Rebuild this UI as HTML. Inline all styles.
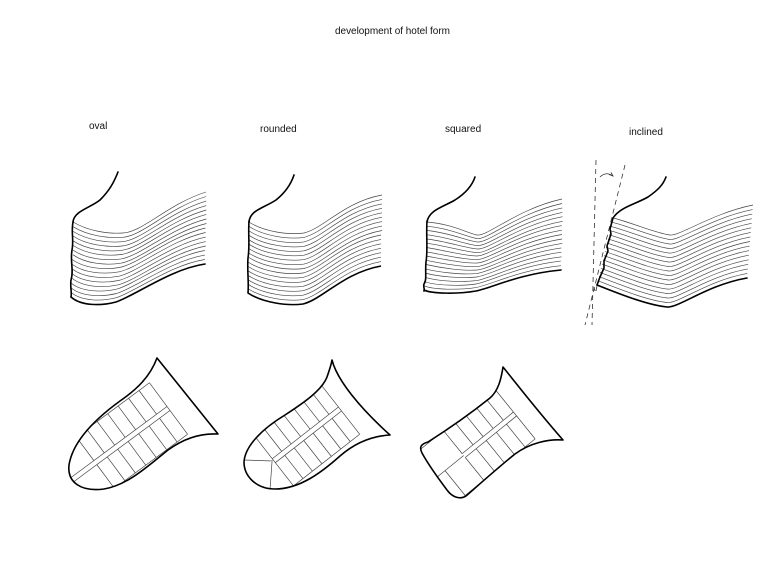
<!DOCTYPE html>
<html>
<head>
<meta charset="utf-8">
<style>
html,body{margin:0;padding:0;background:#fff;}
svg{display:block;}
text{font-family:"Liberation Sans",Arial,sans-serif;fill:#111;}
</style>
</head>
<body>
<svg width="780" height="565" viewBox="0 0 780 565" xmlns="http://www.w3.org/2000/svg">
<rect width="780" height="565" fill="#fff"/>
<defs>
  <path id="s2" d="M0,0 C15,10 40,13 55,11 C75,6 95,-20 133,-27"/>
  <clipPath id="c1"><path d="M157,358 C150,377 136,390 120,401 C98,417 73,440 69,465 C67,483 82,492 104,489 C128,485 148,466 168,450 C183,439 199,433 218,434 L157,358 Z"/></clipPath>
  <clipPath id="c2"><path d="M332,360 C337,380 360,408 390,435 C372,436 355,443 340,456 C322,472 300,489 275,489 C256,489 244,476 244,462 C245,446 262,429 285,415 C305,402 322,390 327,377 C329,371 331,366 332,360 Z"/></clipPath>
  <clipPath id="c3"><path d="M503,367 C512,378 535,408 563,440 C548,439 530,443 515,454 C500,466 482,482 466,496 C460,500 452,497 447,490 C438,478 428,464 422,453 C419,447 421,444 428,442 C450,428 475,410 490,398 C498,391 501,380 503,367 Z"/></clipPath>
</defs>

<!-- Titles -->
<text x="335" y="34" font-size="10" textLength="115">development of hotel form</text>
<text x="89" y="129" font-size="10">oval</text>
<text x="260" y="132" font-size="10">rounded</text>
<text x="445" y="132" font-size="10">squared</text>
<text x="629" y="135" font-size="10">inclined</text>

<!-- Elevation 1: oval -->
<g fill="none" stroke="#444" stroke-width="0.65">
  <path d="M73,222 c15,9 35,12 50,11 c20,-1 45,-29 83,-41"/>
  <path d="M73,226.7 c14.7,9 34.7,11.8 49.7,10.6 c20,-1.4 45.6,-29.3 83.4,-40.8"/>
  <path d="M73,231.4 c14.4,9 34.4,11.6 49.4,10.3 c20,-1.8 46.3,-29.5 83.8,-40.6"/>
  <path d="M73,236.1 c14.1,9 34.1,11.4 49.1,9.9 c20,-2.1 46.9,-29.8 84.1,-40.4"/>
  <path d="M73,240.8 c13.8,9 33.8,11.3 48.8,9.5 c20,-2.5 47.5,-30 84.5,-40.3"/>
  <path d="M73,245.4 c13.4,9 33.4,11.1 48.4,9.1 c20,-2.9 48.1,-30.3 84.9,-40.1"/>
  <path d="M73,250.1 c13.1,9 33.1,10.9 48.1,8.8 c20,-3.3 48.8,-30.5 85.3,-39.9"/>
  <path d="M73,254.8 c12.8,9 32.8,10.7 47.8,8.4 c20,-3.6 49.4,-30.8 85.6,-39.7"/>
  <path d="M72,259.5 c12.5,9 32.5,10.5 47.5,8 c20,-4 50,-31 86,-39.5"/>
  <path d="M72,264.2 c12.2,9 32.2,10.3 47.2,7.6 c20,-4.4 50.6,-31.3 86.4,-39.3"/>
  <path d="M72,268.9 c11.9,9 31.9,10.1 46.9,7.3 c20,-4.8 51.3,-31.5 86.8,-39.1"/>
  <path d="M72,273.6 c11.6,9 31.6,9.9 46.6,6.9 c20,-5.1 51.9,-31.8 87.1,-38.9"/>
  <path d="M72,278.3 c11.3,9 31.3,9.8 46.3,6.5 c20,-5.5 52.5,-32 87.5,-38.8"/>
  <path d="M71,283 c10.9,9 30.9,9.6 45.9,6.1 c20,-5.9 53.1,-32.3 87.9,-38.6"/>
  <path d="M71,287.7 c10.6,9 30.6,9.4 45.6,5.8 c20,-6.3 53.8,-32.5 88.3,-38.4"/>
  <path d="M71,292.3 c10.3,9 30.3,9.2 45.3,5.4 c20,-6.6 54.4,-32.8 88.6,-38.2"/>
</g>
<g fill="none" stroke="#000" stroke-width="1.6" stroke-linecap="round">
  <path d="M71,297 c10,9 30,9 45,5 c20,-7 55,-33 89,-38"/>
  <path d="M118,172 C114,182 110,190 100,200 C90,208 74,211 73,222"/>
  <path d="M73,222 C71,232 74,240 72,250 C70,262 74,270 71,280 C70,287 72,292 71,297"/>
</g>

<!-- Elevation 2: rounded -->
<g fill="none" stroke="#444" stroke-width="0.65">
  <use href="#s2" x="249" y="222"/>
  <use href="#s2" x="249" y="226.4"/>
  <use href="#s2" x="249" y="230.9"/>
  <use href="#s2" x="249" y="235.3"/>
  <use href="#s2" x="249" y="239.8"/>
  <use href="#s2" x="249" y="244.2"/>
  <use href="#s2" x="249" y="248.6"/>
  <use href="#s2" x="249" y="253.1"/>
  <use href="#s2" x="249" y="257.5"/>
  <use href="#s2" x="248" y="262"/>
  <use href="#s2" x="248" y="266.4"/>
  <use href="#s2" x="248" y="270.8"/>
  <use href="#s2" x="248" y="275.3"/>
  <use href="#s2" x="248" y="279.7"/>
  <use href="#s2" x="248" y="284.2"/>
  <use href="#s2" x="248" y="288.6"/>
  <use href="#s2" x="248" y="293" stroke="#000" stroke-width="1.6"/>
</g>
<g fill="none" stroke="#000" stroke-width="1.6" stroke-linecap="round">
  <path d="M294,175 C291,184 286,192 276,200 C264,208 250,210 249,222"/>
  <path d="M249,221 C248,235 250,245 248,258 C247,270 249,282 248,293"/>
</g>

<!-- Elevation 3: squared -->
<g fill="none" stroke="#444" stroke-width="0.65">
  <path d="M427,222 c25,2 40,11 50,13 c10,2 40,-26 85,-36"/>
  <path d="M427,226.3 c23.9,2.1 39.7,10.6 50.1,12.3 c10.5,1.6 40.2,-25.4 85,-35.1"/>
  <path d="M427,230.5 c22.9,2.3 39.4,10.1 50.3,11.5 c11,1.3 40.4,-24.9 85,-34.1"/>
  <path d="M427,234.8 c21.8,2.4 39.1,9.7 50.4,10.8 c11.5,0.9 40.6,-24.3 85,-33.2"/>
  <path d="M427,239 c20.8,2.5 38.8,9.3 50.5,10 c12,0.5 40.8,-23.8 85,-32.3"/>
  <path d="M427,243.3 c19.7,2.6 38.4,8.8 50.6,9.3 c12.5,0.1 40.9,-23.2 85,-31.3"/>
  <path d="M426,247.5 c18.6,2.8 38.1,8.4 50.8,8.5 c13,-0.3 41.1,-22.6 85,-30.4"/>
  <path d="M426,251.8 c17.6,2.9 37.8,7.9 50.9,7.8 c13.5,-0.6 41.3,-22.1 85,-29.4"/>
  <path d="M426,256 c16.5,3 37.5,7.5 51,7 c14,-1 41.5,-21.5 85,-28.5"/>
  <path d="M426,260.3 c15.4,3.1 37.2,7.1 51.1,6.3 c14.5,-1.4 41.7,-20.9 85,-27.6"/>
  <path d="M426,264.5 c14.4,3.3 36.9,6.6 51.3,5.5 c15,-1.8 41.9,-20.4 85,-26.6"/>
  <path d="M425,268.8 c13.3,3.4 36.6,6.2 51.4,4.8 c15.5,-2.1 42.1,-19.8 85,-25.7"/>
  <path d="M425,273 c12.3,3.5 36.3,5.8 51.5,4 c16,-2.5 42.3,-19.3 85,-24.8"/>
  <path d="M425,277.3 c11.2,3.6 35.9,5.3 51.6,3.3 c16.5,-2.9 42.4,-18.7 85,-23.8"/>
  <path d="M424,281.5 c10.1,3.8 35.6,4.9 51.8,2.5 c17,-3.3 42.6,-18.1 85,-22.9"/>
  <path d="M424,285.8 c9.1,3.9 35.3,4.4 51.9,1.8 c17.5,-3.6 42.8,-17.6 85,-21.9"/>
</g>
<g fill="none" stroke="#000" stroke-width="1.6" stroke-linecap="round">
  <path d="M424,290 c8,4 35,4 52,1 c18,-4 43,-17 85,-21"/>
  <path d="M475,177 C472,186 466,193 455,200 C443,207 429,210 427,222"/>
  <path d="M427,221 C426,235 428,250 426,262 C425,272 427,280 424,284 C423,287 425,289 424,291"/>
</g>

<!-- Elevation 4: inclined -->
<g fill="none" stroke="#444" stroke-width="0.65">
  <path d="M613,218 c20,5 42,15 57,17 c10,1 43,-22 83,-30"/>
  <path d="M612,222.2 c20,5.2 42.5,15.3 57.8,17.3 c10.1,1 42.8,-22 82.8,-29.9"/>
  <path d="M611,226.4 c20,5.4 43,15.6 58.6,17.6 c10.3,1 42.6,-22 82.6,-29.9"/>
  <path d="M610,230.6 c20,5.6 43.5,15.9 59.4,17.9 c10.4,1 42.4,-22 82.4,-29.8"/>
  <path d="M609,234.8 c20,5.8 44,16.3 60.3,18.3 c10.5,1 42.3,-22 82.3,-29.8"/>
  <path d="M608,238.9 c20,5.9 44.5,16.6 61.1,18.6 c10.6,1 42.1,-22 82.1,-29.7"/>
  <path d="M607,243.1 c20,6.1 45,16.9 61.9,18.9 c10.8,1 41.9,-22 81.9,-29.6"/>
  <path d="M606,247.3 c20,6.3 45.5,17.2 62.7,19.2 c10.9,1 41.7,-22 81.7,-29.6"/>
  <path d="M605,251.5 c20,6.5 46,17.5 63.5,19.5 c11,1 41.5,-22 81.5,-29.5"/>
  <path d="M604,255.7 c20,6.7 46.5,17.8 64.3,19.8 c11.1,1 41.3,-22 81.3,-29.4"/>
  <path d="M603,259.9 c20,6.9 47,18.1 65.1,20.1 c11.3,1 41.1,-22 81.1,-29.4"/>
  <path d="M602,264.1 c20,7.1 47.5,18.4 65.9,20.4 c11.4,1 40.9,-22 80.9,-29.3"/>
  <path d="M601,268.3 c20,7.3 48,18.8 66.8,20.8 c11.5,1 40.8,-22 80.8,-29.3"/>
  <path d="M600,272.4 c20,7.4 48.5,19.1 67.6,21.1 c11.6,1 40.6,-22 80.6,-29.2"/>
  <path d="M599,276.6 c20,7.6 49,19.4 68.4,21.4 c11.8,1 40.4,-22 80.4,-29.1"/>
  <path d="M598,280.8 c20,7.8 49.5,19.7 69.2,21.7 c11.9,1 40.2,-22 80.2,-29.1"/>
</g>
<g fill="none" stroke="#000" stroke-width="1.6" stroke-linecap="round" stroke-linejoin="round">
  <path d="M597,285 c20,8 50,20 70,22 c12,1 40,-22 80,-29"/>
  <path d="M666,177 C663,185 658,190 648,197 C636,204 620,207 613,218"/>
  <path d="M613,218 L610,229 L611,234 L607,246 L608,251 L604,261 L604,268 L600,277 L597,285"/>
</g>
<g fill="none" stroke="#333" stroke-width="0.8">
  <path d="M596,160 L592,325" stroke-dasharray="5,4"/>
  <path d="M625,165 L585,325" stroke-dasharray="5,4"/>
  <path d="M600,177 Q606,171 613,176"/>
  <path d="M609,174.5 L613,176 L611,172.5"/>
  <path d="M594,287 l1,4 M597,286 l-1,5"/>
</g>

<!-- Plan 1: oval -->
<g clip-path="url(#c1)" fill="none" stroke="#444" stroke-width="0.7">
  <g transform="translate(168.5,408.5) rotate(-36.5)">
    <path d="M-120,-32H0 M-120,-2.5H0 M-120,2.5H0 M-120,32H0 M0,-32V32
      M-13,-32V-2.5 M-26,-32V-2.5 M-39,-32V-2.5 M-52,-32V-2.5 M-65,-32V-2.5 M-78,-32V-2.5 M-91,-32V-2.5
      M-13,2.5V32 M-26,2.5V32 M-39,2.5V32 M-52,2.5V32 M-65,2.5V32 M-78,2.5V32 M-91,2.5V32"/>
  </g>
</g>
<path d="M157,358 C150,377 136,390 120,401 C98,417 73,440 69,465 C67,483 82,492 104,489 C128,485 148,466 168,450 C183,439 199,433 218,434 L157,358 Z" fill="none" stroke="#000" stroke-width="1.6" stroke-linejoin="round"/>

<!-- Plan 2: rounded -->
<g clip-path="url(#c2)" fill="none" stroke="#444" stroke-width="0.7">
  <g transform="translate(340,409) rotate(-38)">
    <path d="M-84,-32H0 M-84,-2.5H0 M-84,2.5H0 M-84,32H0 M0,-32V32 M-84,-32V32
      M-12,-32V-2.5 M-24,-32V-2.5 M-36,-32V-2.5 M-48,-32V-2.5 M-60,-32V-2.5 M-72,-32V-2.5
      M-12,2.5V32 M-24,2.5V32 M-36,2.5V32 M-48,2.5V32 M-60,2.5V32 M-72,2.5V32"/>
  </g>
  <path d="M273,461 L243,460 M272,462 L270,490"/>
</g>
<path d="M332,360 C337,380 360,408 390,435 C372,436 355,443 340,456 C322,472 300,489 275,489 C256,489 244,476 244,462 C245,446 262,429 285,415 C305,402 322,390 327,377 C329,371 331,366 332,360 Z" fill="none" stroke="#000" stroke-width="1.6" stroke-linejoin="round"/>

<!-- Plan 3: squared -->
<g clip-path="url(#c3)" fill="none" stroke="#444" stroke-width="0.7">
  <g transform="translate(515,414) rotate(-39)">
    <path d="M-120,-32H0 M-66,-2.5H0 M-66,2.5H0 M-120,0H-66 M-120,32H0 M0,-32V32
      M-13,-32V-2.5 M-26,-32V-2.5 M-39,-32V-2.5 M-52,-32V-2.5 M-66,-32V-2.5
      M-13,2.5V32 M-26,2.5V32 M-39,2.5V32 M-52,2.5V32 M-66,2.5V32 M-90,0V32"/>
  </g>
</g>
<path d="M503,367 C512,378 535,408 563,440 C548,439 530,443 515,454 C500,466 482,482 466,496 C460,500 452,497 447,490 C438,478 428,464 422,453 C419,447 421,444 428,442 C450,428 475,410 490,398 C498,391 501,380 503,367 Z" fill="none" stroke="#000" stroke-width="1.6" stroke-linejoin="round"/>
</svg>
</body>
</html>
